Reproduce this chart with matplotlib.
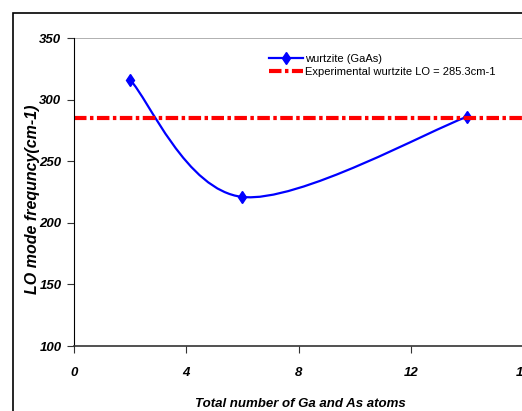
import matplotlib.pyplot as plt
from matplotlib.path import Path
from matplotlib.patches import PathPatch, Rectangle
from matplotlib.lines import Line2D

# data
atoms = [2, 6, 14]
lo_freq = [316, 221, 286]
exp_lo = 285.3
x_ticks = [0, 4, 8, 12, 16]
y_ticks = [100, 150, 200, 250, 300, 350]

plt.rcParams['lines.scale_dashes'] = False
font = ['Liberation Sans', 'DejaVu Sans']

fig = plt.figure(figsize=(5.22, 4.11), dpi=100)
ax = fig.add_axes([74/522, 1 - 346/411, 449/522, 308/411])

# outer chart border
fig.patches.append(Rectangle((13/522, -0.1), 1.2, 1 - 13/411 + 0.1,
                             transform=fig.transFigure, fill=False,
                             edgecolor='black', linewidth=1.2))

# smoothed line (bezier through the points, like excel's smoothing)
pts = list(zip(atoms, lo_freq))
verts = [pts[0]]
codes = [Path.MOVETO]
for i in range(len(pts) - 1):
    p0 = pts[i - 1] if i > 0 else pts[i]
    p1 = pts[i]
    p2 = pts[i + 1]
    p3 = pts[i + 2] if i + 2 < len(pts) else pts[i + 1]
    c1 = (p1[0] + (p2[0] - p0[0]) / 6, p1[1] + (p2[1] - p0[1]) / 6)
    c2 = (p2[0] - (p3[0] - p1[0]) / 6, p2[1] - (p3[1] - p1[1]) / 6)
    verts += [c1, c2, p2]
    codes += [Path.CURVE4] * 3
ax.add_patch(PathPatch(Path(verts, codes), fill=False, edgecolor='#0000ff', linewidth=1.6))
ax.plot(atoms, lo_freq, linestyle='none', marker='d', markersize=6.5, color='#0000ff')

ax.axhline(exp_lo, color='#ff0000', linewidth=3, linestyle=(0, (9, 2.5, 2.5, 2.5)))

ax.set_xlim(0, 16)
ax.set_ylim(100, 350)
ax.set_xticks(x_ticks)
ax.set_yticks(y_ticks)
ax.set_xticklabels([str(t) for t in x_ticks], family=font, fontsize=9.5,
                   fontweight='bold', fontstyle='italic')
ax.set_yticklabels([str(t) for t in y_ticks], family=font, fontsize=9.5,
                   fontweight='bold', fontstyle='italic')
ax.tick_params(axis='x', direction='out', length=5, pad=10, color='#333333')
ax.tick_params(axis='y', direction='out', length=5, pad=4, color='#333333')
ax.axhline(350, color='#aaaaaa', linewidth=1.3)
ax.spines['top'].set_visible(False)
ax.spines['right'].set_visible(False)
ax.spines['left'].set_color('black')
ax.spines['bottom'].set_color('#333333')
ax.spines['bottom'].set_linewidth(1.2)

ax.set_xlabel('Total number of Ga and As atoms', family=font, fontsize=9.5,
              fontweight='bold', fontstyle='italic')
ax.xaxis.set_label_coords((300 - 74) / 449, (346 - 404) / 308)
ax.set_ylabel('LO mode frequncy(cm-1)', family=font,
              fontsize=11.5, fontweight='bold', fontstyle='italic')
ax.yaxis.set_label_coords((33 - 74) / 449, (346 - 199) / 308)
ax.xaxis.label.set_va('center')
ax.yaxis.label.set_va('center')

handles = [Line2D([], [], color='#0000ff', linewidth=1.6, marker='d', markersize=6),
           Line2D([], [], color='#ff0000', linewidth=3, linestyle=(0, (9, 2.5, 2.5, 2.5)))]
ax.legend(handles, ['wurtzite (GaAs)', 'Experimental wurtzite LO = 285.3cm-1'],
          loc='upper left', bbox_to_anchor=((269 - 74) / 449, (346 - 54) / 308),
          frameon=False, prop={'family': font, 'size': 8}, handlelength=3.1,
          handletextpad=0.1, labelspacing=0.3, borderaxespad=0, borderpad=0)

fig.savefig('out.png', dpi=100)
